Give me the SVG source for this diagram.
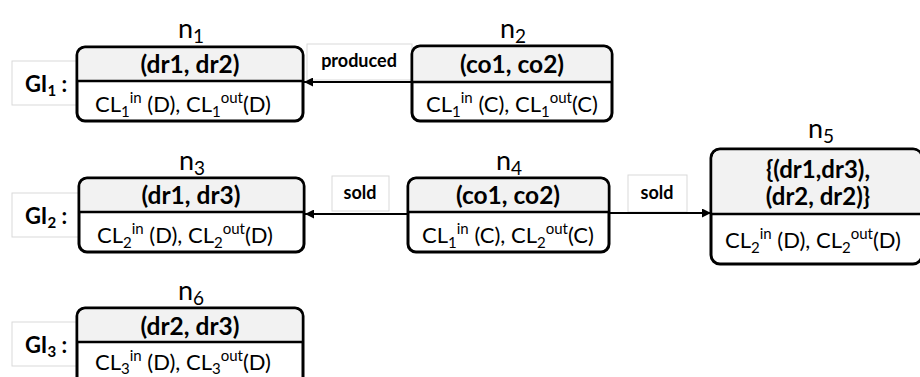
<svg xmlns="http://www.w3.org/2000/svg" width="920" height="377" viewBox="0 0 920 377">
<style>
text{font-family:Lato,"Open Sans","Liberation Sans",sans-serif;fill:#000;}
.box{fill:#fff;stroke:#000;stroke-width:3;}
.hdr{fill:#f2f2f2;stroke:none;}
.div{stroke:#000;stroke-width:2.5;}
.h{font-weight:bold;font-size:24.5px;text-anchor:middle;}
.h5{font-weight:bold;font-size:24px;text-anchor:middle;}
.cl{font-size:22px;text-anchor:middle;}
.sb{font-size:15px;}
.sp{font-size:15px;}
.nl{font-size:27px;text-anchor:middle;}
.ns{font-size:19px;}
.gi{font-weight:bold;font-size:22px;text-anchor:middle;}
.gis{font-size:15px;}
.lb{fill:#fff;stroke:#d9d9d9;stroke-width:1;}
.el{font-weight:bold;font-size:18px;text-anchor:middle;}
.edge{stroke:#000;stroke-width:2;fill:none;marker-end:url(#ah);}
</style>
<defs>
<marker id="ah" viewBox="0 0 10 10" refX="10" refY="5" markerWidth="9" markerHeight="9" markerUnits="userSpaceOnUse" orient="auto">
<path d="M0,0 L10,5 L0,10 z" fill="#000"/>
</marker>
</defs>
<rect width="920" height="377" fill="#fff"/>

<g id="gi-labels">
<rect class="lb" x="12" y="61" width="65" height="44"/>
<text class="gi" x="46" y="92">GI<tspan class="gis" dy="4">1</tspan><tspan dy="-4"> :</tspan></text>
<rect class="lb" x="12" y="193" width="67" height="44"/>
<text class="gi" x="46" y="224">GI<tspan class="gis" dy="4">2</tspan><tspan dy="-4"> :</tspan></text>
<rect class="lb" x="12" y="322" width="65" height="44"/>
<text class="gi" x="46" y="353">GI<tspan class="gis" dy="4">3</tspan><tspan dy="-4"> :</tspan></text>
</g>

<g id="connectors">
<rect class="lb" x="307" y="44" width="105" height="36"/>
<text class="el" x="359" y="67">produced</text>
<line class="edge" x1="412" y1="82" x2="304" y2="82"/>
<rect class="lb" x="332" y="176" width="57" height="35"/>
<text class="el" x="360" y="199">sold</text>
<line class="edge" x1="408" y1="214" x2="305" y2="214"/>
<rect class="lb" x="628" y="175" width="59" height="37"/>
<text class="el" x="657" y="199">sold</text>
<line class="edge" x1="609" y1="213" x2="711" y2="213"/>
</g>

<g id="n1">
<text class="nl" x="191" y="38">n<tspan class="ns" dy="5">1</tspan></text>
<rect class="box" x="77" y="47" width="226" height="74" rx="8"/>
<path class="hdr" d="M85,48.5 H295 A6.5,6.5 0 0 1 301.5,55 V81 H78.5 V55 A6.5,6.5 0 0 1 85,48.5 Z"/>
<line class="div" x1="77" y1="81" x2="303" y2="81"/>
<text class="h" x="190" y="73">(dr1, dr2)</text>
<text class="cl" x="183" y="112">CL<tspan class="sb" dy="5">1</tspan><tspan class="sp" dy="-14">in</tspan><tspan dy="9"> (D), CL</tspan><tspan class="sb" dy="5">1</tspan><tspan class="sp" dy="-14">out</tspan><tspan dy="9">(D)</tspan></text>
</g>

<g id="n2">
<text class="nl" x="513" y="38">n<tspan class="ns" dy="5">2</tspan></text>
<rect class="box" x="412" y="46" width="200" height="75" rx="8"/>
<path class="hdr" d="M420,47.5 H604 A6.5,6.5 0 0 1 610.5,54 V82 H413.5 V54 A6.5,6.5 0 0 1 420,47.5 Z"/>
<line class="div" x1="412" y1="82" x2="612" y2="82"/>
<text class="h" x="512" y="73">(co1, co2)</text>
<text class="cl" x="512" y="112">CL<tspan class="sb" dy="5">1</tspan><tspan class="sp" dy="-14">in</tspan><tspan dy="9"> (C), CL</tspan><tspan class="sb" dy="5">1</tspan><tspan class="sp" dy="-14">out</tspan><tspan dy="9">(C)</tspan></text>
</g>

<g id="n3">
<text class="nl" x="192" y="170">n<tspan class="ns" dy="5">3</tspan></text>
<rect class="box" x="79" y="178" width="225" height="74" rx="8"/>
<path class="hdr" d="M87,179.5 H296 A6.5,6.5 0 0 1 302.5,186 V212 H80.5 V186 A6.5,6.5 0 0 1 87,179.5 Z"/>
<line class="div" x1="79" y1="212" x2="304" y2="212"/>
<text class="h" x="191" y="204">(dr1, dr3)</text>
<text class="cl" x="185" y="243">CL<tspan class="sb" dy="5">2</tspan><tspan class="sp" dy="-14">in</tspan><tspan dy="9"> (D), CL</tspan><tspan class="sb" dy="5">2</tspan><tspan class="sp" dy="-14">out</tspan><tspan dy="9">(D)</tspan></text>
</g>

<g id="n4">
<text class="nl" x="509" y="170">n<tspan class="ns" dy="5">4</tspan></text>
<rect class="box" x="408" y="178" width="201" height="74" rx="8"/>
<path class="hdr" d="M416,179.5 H601 A6.5,6.5 0 0 1 607.5,186 V212 H409.5 V186 A6.5,6.5 0 0 1 416,179.5 Z"/>
<line class="div" x1="408" y1="212" x2="609" y2="212"/>
<text class="h" x="508" y="204">(co1, co2)</text>
<text class="cl" x="508" y="243">CL<tspan class="sb" dy="5">1</tspan><tspan class="sp" dy="-14">in</tspan><tspan dy="9"> (C), CL</tspan><tspan class="sb" dy="5">2</tspan><tspan class="sp" dy="-14">out</tspan><tspan dy="9">(C)</tspan></text>
</g>

<g id="n5">
<text class="nl" x="821" y="138">n<tspan class="ns" dy="5">5</tspan></text>
<rect class="box" x="711" y="149" width="211" height="115" rx="9"/>
<path class="hdr" d="M720,150.5 H914 A6.5,6.5 0 0 1 920.5,157 V214 H712.5 V158 A7.5,7.5 0 0 1 720,150.5 Z"/>
<line class="div" x1="711" y1="214" x2="922" y2="214"/>
<text class="h5" x="818" y="178">{(dr1,dr3),</text>
<text class="h5" x="818" y="205">(dr2, dr2)}</text>
<text class="cl" x="813" y="248">CL<tspan class="sb" dy="5">2</tspan><tspan class="sp" dy="-14">in</tspan><tspan dy="9"> (D), CL</tspan><tspan class="sb" dy="5">2</tspan><tspan class="sp" dy="-14">out</tspan><tspan dy="9">(D)</tspan></text>
</g>

<g id="n6">
<text class="nl" x="191" y="300">n<tspan class="ns" dy="5">6</tspan></text>
<rect class="box" x="77" y="308" width="226" height="80" rx="8"/>
<path class="hdr" d="M85,309.5 H295 A6.5,6.5 0 0 1 301.5,316 V342 H78.5 V316 A6.5,6.5 0 0 1 85,309.5 Z"/>
<line class="div" x1="77" y1="342" x2="303" y2="342"/>
<text class="h" x="190" y="335">(dr2, dr3)</text>
<text class="cl" x="183" y="370">CL<tspan class="sb" dy="4">3</tspan><tspan class="sp" dy="-13">in</tspan><tspan dy="9"> (D), CL</tspan><tspan class="sb" dy="4">3</tspan><tspan class="sp" dy="-13">out</tspan><tspan dy="9">(D)</tspan></text>
</g>
</svg>
